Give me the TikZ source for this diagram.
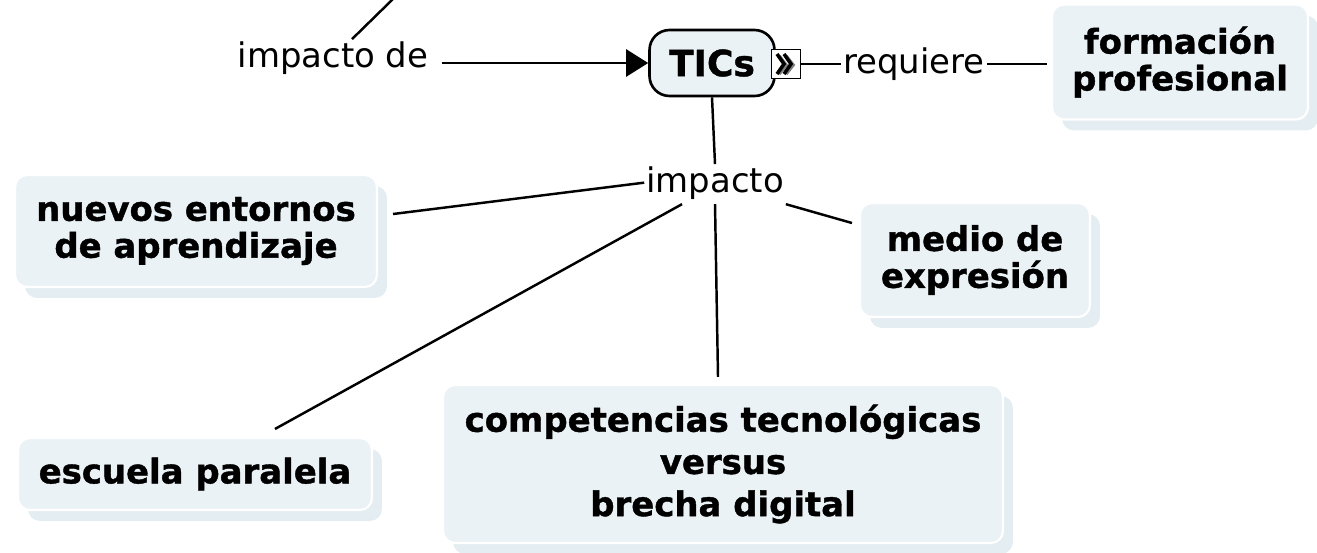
\documentclass[tikz,border=0pt]{standalone}
\usepackage{fontspec}
\setmainfont[BoldFeatures={FakeBold=1.2}]{DejaVu Sans}
\usetikzlibrary{shadows,arrows.meta}
\definecolor{boxfill}{RGB}{235,242,246}
\definecolor{shadowfill}{RGB}{228,237,241}

\begin{document}
\begin{tikzpicture}[x=0.02cm,y=-0.02cm,
    topic/.style={rounded corners=0.24cm, fill=boxfill, draw=white, line width=1.2pt,
      general shadow={fill=shadowfill, shadow xshift=0.2cm, shadow yshift=-0.22cm},
      font=\fontsize{19.3}{21}\selectfont\bfseries, align=center, inner sep=0pt},
    linkword/.style={font=\fontsize{19.3}{21}\selectfont, inner sep=1pt},
    link/.style={line width=1.4pt}]
  \useasboundingbox (0,0) rectangle (1317,552);

  \node[topic, minimum width=5.12cm, minimum height=2.3cm] (form) at (1180,62) {formación\\profesional};
  \node[topic, minimum width=7.24cm, minimum height=2.24cm] (nuevos) at (196,231) {nuevos entornos\\de aprendizaje};
  \node[topic, minimum width=4.6cm, minimum height=2.28cm] (medio) at (975,260) {medio de\\expresión};
  \node[topic, minimum width=7.08cm, minimum height=1.44cm] (escuela) at (195,474) {escuela paralela};
  \node[topic, minimum width=11.2cm, minimum height=3.16cm, font=\fontsize{19.3}{24}\selectfont\bfseries] (comp) at (723,464) {competencias tecnológicas\\versus\\brecha digital};

  \node[fill=boxfill, draw, line width=1.5pt, rounded corners=0.4cm, minimum width=2.5cm, minimum height=1.32cm,
    font=\fontsize{20.5}{22}\selectfont\bfseries] (tics) at (712,63) {TICs};
  \node[fill=white, draw, line width=0.9pt, minimum width=0.58cm, minimum height=0.58cm, inner sep=0pt] (icon) at (786,64) {};
  \draw[gray, line width=2pt] (icon.center) ++(-7,-8) -- ++(7,9) -- ++(-7,9) ++(7,-18) -- ++(7,9) -- ++(-7,9);
  \draw[line width=2pt] (icon.center) ++(-9,-10) -- ++(7,10) -- ++(-7,10) ++(7,-20) -- ++(7,10) -- ++(-7,10);

  \node[linkword, anchor=base] (impde) at (333,67) {impacto de};
  \node[linkword, anchor=base] (req) at (914,73) {requiere};
  \node[linkword, anchor=base] (imp) at (715,192) {impacto};
  \coordinate (up) at (394,-2);

  \draw[link] ([xshift=0.38cm]impde.north) -- (up);
  \draw[link, shorten <=0.24cm, -{Triangle[length=0.44cm,width=0.54cm]}] (impde.east |- tics.west) -- (tics.west);
  \draw[link] (icon.east) -- (req.west |- icon.east);
  \draw[link] (req.east |- icon.east) -- ([xshift=-0.08cm]form.west |- icon.east);
  \draw[link] (tics.south) -- (imp.north);
  \draw[link] (imp.west) -- ([xshift=0.3cm,yshift=0.34cm]nuevos.east);
  \draw[link] ([xshift=-0.66cm,yshift=-0.06cm]imp.south) -- ([xshift=1.6cm,yshift=0.16cm]escuela.north);
  \draw[link] ([yshift=-0.06cm]imp.south east) -- ([xshift=-0.14cm,yshift=0.74cm]medio.west);
  \draw[link] ([yshift=-0.06cm]imp.south) -- ([xshift=-0.1cm,yshift=0.14cm]comp.north);
\end{tikzpicture}
\end{document}
